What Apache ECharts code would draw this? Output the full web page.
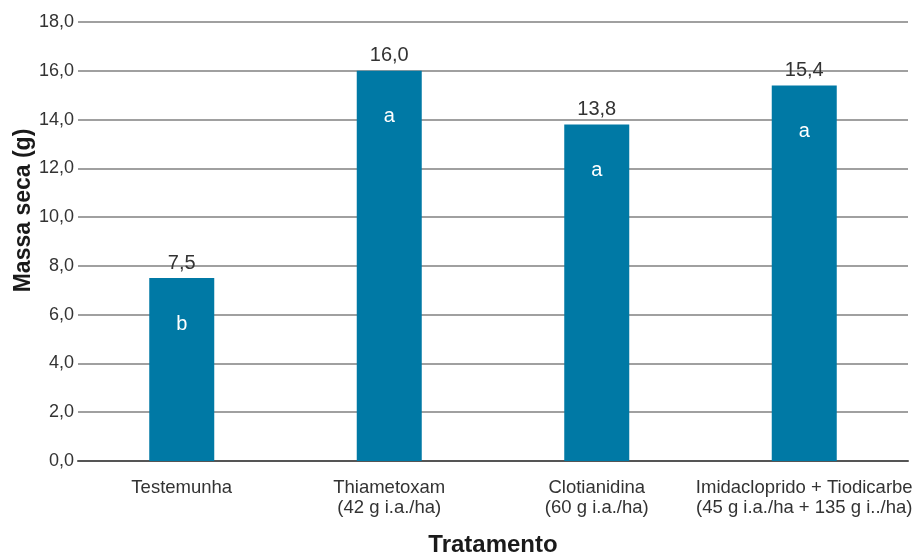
<!DOCTYPE html>
<html>
<head>
<meta charset="utf-8">
<script src="https://cdn.jsdelivr.net/npm/echarts@6/dist/echarts.min.js"></script>
<style>
  html, body { margin: 0; padding: 0; background: #fff; }
  #chart { width: 916px; height: 552px; }
</style>
</head>
<body>
<div id="chart"></div>
<script>
// Dry mass per treatment, with significance letters
const categories = [
  'Testemunha',
  'Thiametoxam\n(42 g i.a./ha)',
  'Clotianidina\n(60 g i.a./ha)',
  'Imidacloprido + Tiodicarbe\n(45 g i.a./ha + 135 g i../ha)'
];
const massaSeca = [7.5, 16.0, 13.8, 15.4];
const letras = ['b', 'a', 'a', 'a'];
const yTicks = { min: 0, max: 18, interval: 2 };

const fmt = v => Number(v).toFixed(1).replace('.', ',');
const font = 'Liberation Sans, Arial, sans-serif';

const chart = echarts.init(document.getElementById('chart'));
chart.setOption({
  animation: false,
  textStyle: { fontFamily: font },
  grid: { left: 78, right: 8, top: 22, bottom: 91, containLabel: false, outerBoundsMode: 'none' },
  xAxis: {
    type: 'category',
    data: categories,
    name: 'Tratamento',
    nameLocation: 'middle',
    nameGap: 72,
    nameMoveOverlap: false,
    nameTextStyle: { fontSize: 24, fontWeight: 'bold', color: '#1a1a1a', fontFamily: font },
    axisLine: { lineStyle: { color: '#555', width: 2 } },
    axisTick: { show: false },
    axisLabel: { color: '#333', fontSize: 18.5, lineHeight: 20, margin: 17, fontFamily: font, interval: 0 }
  },
  yAxis: {
    type: 'value',
    min: yTicks.min, max: yTicks.max, interval: yTicks.interval,
    name: 'Massa seca (g)',
    nameLocation: 'middle',
    nameGap: 43,
    nameMoveOverlap: false,
    // left padding lifts the rotated title above the plot's midpoint
    nameTextStyle: { fontSize: 23, fontWeight: 'bold', color: '#1a1a1a', fontFamily: font, padding: [0, 0, 0, 62] },
    axisLine: { show: false },
    axisTick: { show: false },
    axisLabel: { color: '#333', fontSize: 18, margin: 4, formatter: fmt, fontFamily: font },
    splitLine: { lineStyle: { color: '#a0a0a0', width: 2 } }
  },
  series: [
    {
      type: 'bar',
      data: massaSeca,
      barWidth: 65,
      itemStyle: { color: '#0079a5' },
      label: {
        show: true, position: 'top', distance: 5,
        color: '#333', fontSize: 20, fontFamily: font,
        formatter: p => fmt(p.value)
      },
      z: 2
    },
    {
      type: 'bar',
      data: massaSeca,
      barWidth: 65,
      barGap: '-100%',
      itemStyle: { color: 'rgba(0,0,0,0)' },
      label: {
        show: true, position: 'insideTop', distance: 36,
        color: '#fff', fontSize: 20, fontFamily: font,
        formatter: p => letras[p.dataIndex]
      },
      silent: true,
      z: 3
    }
  ]
});
</script>
</body>
</html>
